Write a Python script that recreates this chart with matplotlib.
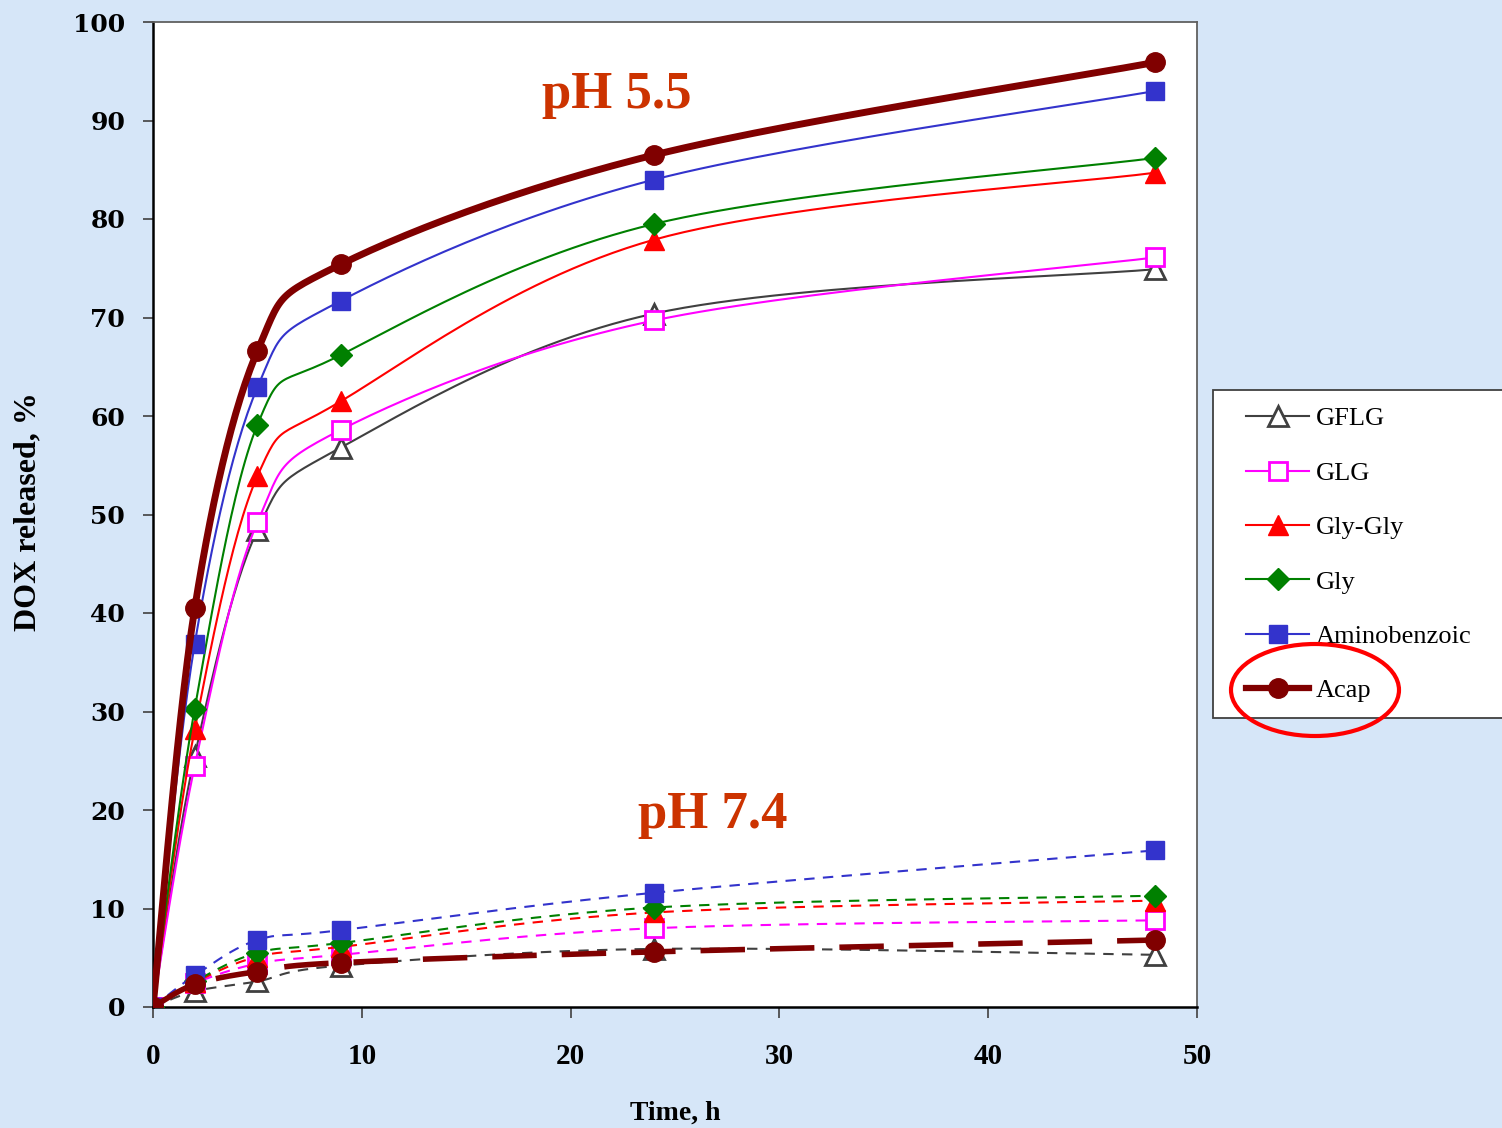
import numpy as np
import matplotlib.pyplot as plt
from matplotlib.patches import Ellipse, Rectangle
from matplotlib.lines import Line2D

# time points, h
time_h = [0, 2, 5, 9, 24, 48]

names = ["GFLG", "GLG", "Gly-Gly", "Gly", "Aminobenzoic", "Acap"]

# DOX released, %, at pH 5.5
ph55_gflg = [0, 25.5, 48.4, 56.8, 70.4, 74.9]
ph55_glg = [0, 24.5, 49.2, 58.6, 69.7, 76.1]
ph55_glygly = [0, 28.2, 53.9, 61.5, 77.9, 84.7]
ph55_gly = [0, 30.3, 59.1, 66.2, 79.5, 86.2]
ph55_amino = [0, 36.9, 62.9, 71.7, 84.0, 93.0]
ph55_acap = [0, 40.5, 66.6, 75.4, 86.5, 95.9]

# DOX released, %, at pH 7.4
ph74_gflg = [0, 1.6, 2.6, 4.2, 5.9, 5.3]
ph74_glg = [0, 2.4, 4.4, 5.3, 8.0, 8.8]
ph74_glygly = [0, 2.5, 5.1, 6.1, 9.6, 10.8]
ph74_gly = [0, 2.6, 5.5, 6.5, 10.1, 11.3]
ph74_amino = [0, 3.2, 6.8, 7.8, 11.6, 15.9]
ph74_acap = [0, 2.3, 3.6, 4.5, 5.6, 6.8]

ph55 = [ph55_gflg, ph55_glg, ph55_glygly, ph55_gly, ph55_amino, ph55_acap]
ph74 = [ph74_gflg, ph74_glg, ph74_glygly, ph74_gly, ph74_amino, ph74_acap]

colors = ["#404040", "#FF00FF", "#FF0000", "#008000", "#3333CC", "#800000"]
markers = ["^", "s", "^", "D", "s", "o"]
msizes = [15, 13, 15, 11, 13, 14]
faces = ["white", "white", "#FF0000", "#008000", "#3333CC", "#800000"]
widths = [1.5, 1.5, 1.5, 1.5, 1.5, 5]

bg = "#D6E6F8"
serif = ["Liberation Serif", "DejaVu Serif"]
plt.rcParams["font.family"] = serif


def smooth(xs, ys, n=30):
    # Excel-style smoothed line (Catmull-Rom through the points)
    p = np.column_stack([xs, ys]).astype(float)
    p = np.vstack([p[0], p, p[-1]])
    out = []
    t = np.linspace(0, 1, n)[:, None]
    for i in range(1, len(p) - 2):
        p0, p1, p2, p3 = p[i - 1], p[i], p[i + 1], p[i + 2]
        c1 = p1 + (p2 - p0) / 6
        c2 = p2 - (p3 - p1) / 6
        seg = ((1 - t) ** 3) * p1 + 3 * ((1 - t) ** 2) * t * c1 + 3 * (1 - t) * t ** 2 * c2 + t ** 3 * p2
        out.append(seg if i == 1 else seg[1:])
    seg = np.vstack(out)
    return seg[:, 0], seg[:, 1]


fig = plt.figure(figsize=(15.02, 11.28), dpi=100, facecolor=bg)
ax = fig.add_axes([153 / 1502, 1 - 1007 / 1128, (1197 - 153) / 1502, (1007 - 22) / 1128])
ax.set_facecolor("white")

for i in range(6):
    z = 3 + i
    mew = 2 if faces[i] == "white" else 1
    # pH 7.4, dashed
    sx, sy = smooth(time_h, ph74[i])
    if i == 5:
        ls = (0, (8, 4.5))
        lw = 4
    else:
        ls = (0, (5, 4))
        lw = 1.5
    ax.plot(sx, sy, color=colors[i], lw=lw, linestyle=ls, zorder=z)
    ax.plot(time_h, ph74[i], linestyle="none", marker=markers[i], ms=msizes[i],
            mfc=faces[i], mec=colors[i], mew=mew, zorder=z + 0.5)
    # pH 5.5, solid
    sx, sy = smooth(time_h, ph55[i])
    ax.plot(sx, sy, color=colors[i], lw=widths[i], zorder=z)
    ax.plot(time_h, ph55[i], linestyle="none", marker=markers[i], ms=msizes[i],
            mfc=faces[i], mec=colors[i], mew=mew, zorder=z + 0.5)

ax.set_xlim(0, 50)
ax.set_ylim(0, 100)
ax.set_xticks(range(0, 51, 10))
ax.set_yticks(range(0, 101, 10))

ax.spines["left"].set_color("black")
ax.spines["bottom"].set_color("black")
ax.spines["left"].set_linewidth(1.8)
ax.spines["bottom"].set_linewidth(1.8)
ax.spines["top"].set_color("#606060")
ax.spines["right"].set_color("#606060")
ax.spines["top"].set_linewidth(1.3)
ax.spines["right"].set_linewidth(1.3)

ax.tick_params(axis="y", direction="out", length=7, width=1.2, color="#404040", pad=13)
ax.tick_params(axis="x", direction="out", length=8, width=1.2, color="#404040", pad=18,
               labelsize=21)
for lab in ax.get_yticklabels():
    lab.set_fontfamily(["DejaVu Serif"])
    lab.set_fontsize(18)
    lab.set_fontweight("bold")
for lab in ax.get_xticklabels():
    lab.set_fontweight("bold")

ax.set_xlabel("Time, h", fontsize=20, fontweight="bold", labelpad=22)
ax.set_ylabel("DOX released, %", fontsize=23, fontweight="bold")
ax.yaxis.set_label_coords(-0.106, 0.5025)

ax.text(22.2, 92.6, "pH 5.5", color="#CC3300", fontsize=38, fontweight="bold",
        ha="center", va="center", zorder=20)
ax.text(26.8, 19.5, "pH 7.4", color="#CC3300", fontsize=38, fontweight="bold",
        ha="center", va="center", zorder=20)

# legend box
fig.patches.append(Rectangle((1213 / 1502, 1 - 718 / 1128), 0.3, (718 - 390) / 1128,
                             transform=fig.transFigure, facecolor="white",
                             edgecolor="#404040", lw=1.3, zorder=1))
handles = []
for i in range(6):
    handles.append(Line2D([], [], color=colors[i], lw=widths[i] if i < 5 else 4.5,
                          marker=markers[i], ms=msizes[i], mfc=faces[i],
                          mec=colors[i], mew=2 if faces[i] == "white" else 1))
leg = fig.legend(handles, names, loc="upper left",
                 bbox_to_anchor=(1246 / 1502, 1 - 407 / 1128), frameon=False,
                 fontsize=19, handlelength=2.4, handletextpad=0.25, labelspacing=1.17,
                 borderpad=0, borderaxespad=0)
leg.set_zorder(5)

fig.patches.append(Ellipse((1315 / 1502, 1 - 690 / 1128), 168 / 1502, 92 / 1128,
                           transform=fig.transFigure, facecolor="none",
                           edgecolor="#FF0000", lw=3, zorder=10))

fig.savefig("out.png", dpi=100, facecolor=bg)
